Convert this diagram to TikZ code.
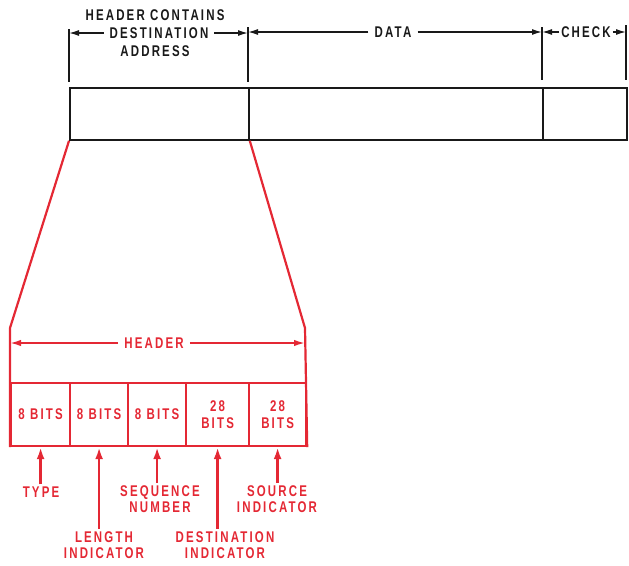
\documentclass[tikz,border=0pt]{standalone}
\usepackage{fontspec}
\setmainfont{Liberation Sans}
\usepackage{tikz}
\usetikzlibrary{arrows.meta,positioning}
\definecolor{pktink}{RGB}{25,25,25}
\definecolor{pktred}{RGB}{228,40,52}

\tikzset{
  lettering/.style={font=\bfseries\fontsize{15.5}{16.5}\selectfont\addfontfeature{FakeStretch=0.74,LetterSpace=14},
    inner sep=2pt, align=center},
  dimlabel/.style={lettering, inner xsep=6pt},
  frame/.style={draw=pktink, line width=1.8pt, inner sep=0pt, anchor=north west,
    minimum height=52pt},
  cell/.style={draw=pktred, line width=2.2pt, inner sep=0pt, anchor=north west,
    minimum height=63pt, lettering, text=pktred},
  dimline/.style={pktink, line width=1.4pt, -{Latex[length=10pt,width=6pt]}},
  extline/.style={pktink, line width=1.6pt},
  redline/.style={pktred, line width=2.2pt, line join=round},
  reddim/.style={pktred, line width=1.8pt, -{Latex[length=11pt,width=6.5pt]}},
  pointer/.style={pktred, line width=2.4pt, -{Latex[length=12pt,width=8pt]}}
}

\begin{document}
\begin{tikzpicture}[x=1pt,y=-1pt]
  \useasboundingbox (0,0) rectangle (629,565);

  % packet frame
  \node[frame, minimum width=179pt] (hdr) at (69,87) {};
  \node[frame, minimum width=294pt] (data) at (248,87) {};
  \node[frame, minimum width=84pt] (chk) at (542,87) {};

  \coordinate (eA) at (69,29); \coordinate (eB) at (248,27);
  \coordinate (eC) at (542,27); \coordinate (eD) at (626,25);
  \draw[extline] (eA) -- (69,82);
  \draw[extline] (eB) -- (248,82);
  \draw[extline] (eC) -- (542,80);
  \draw[extline] (eD) -- (626,80);

  \node[lettering, text=pktink] (hdrA) at (155,15) {HEADER CONTAINS};
  \node[dimlabel, text=pktink] (hdrB) at (159,33) {DESTINATION};
  \node[lettering, text=pktink] (hdrC) at (155,51) {ADDRESS};
  \node[dimlabel, text=pktink] (datal) at (393,32) {DATA};
  \node[lettering, text=pktink] (chkl) at (586,32) {CHECK};

  \draw[dimline] (hdrB.west) -- (eA |- hdrB);
  \draw[dimline] (hdrB.east) -- (eB |- hdrB);
  \draw[dimline] (datal.west) -- (eB |- datal);
  \draw[dimline] (datal.east) -- (eC |- datal);
  \draw[dimline] (chkl.west) -- (eC |- chkl);
  \draw[dimline] (chkl.east) -- (eD |- chkl);

  % header fields
  \node[cell, minimum width=59pt] (type) at (10,382) {8 BITS};
  \node[cell, minimum width=58pt] (len) at (69,382) {8 BITS};
  \node[cell, minimum width=58pt] (seq) at (127,382) {8 BITS};
  \node[cell, minimum width=63pt] (dst) at (185,382) {28\\BITS};
  \node[cell, minimum width=57pt] (src) at (248,382) {28\\BITS};

  \coordinate (kL) at (10,328); \coordinate (kR) at (305,328);
  \draw[redline] (hdr.south west) -- (kL) -- (type.south west);
  \draw[redline] (hdr.south east) -- (kR) -- (src.south east);

  \node[dimlabel, text=pktred] (rhdr) at (154,343) {HEADER};
  \draw[reddim] (rhdr.west) -- (kL |- rhdr);
  \draw[reddim] (rhdr.east) -- (kR |- rhdr);

  \node[lettering, text=pktred] (typel) at (41,492) {TYPE};
  \node[lettering, text=pktred] (lenl) at (104,545) {LENGTH\\INDICATOR};
  \node[lettering, text=pktred] (seql) at (160,499) {SEQUENCE\\NUMBER};
  \node[lettering, text=pktred] (dstl) at (225,545) {DESTINATION\\INDICATOR};
  \node[lettering, text=pktred] (srcl) at (277,499) {SOURCE\\INDICATOR};

  \draw[pointer] (type.south |- typel.north) -- (type.south);
  \draw[pointer] (len.south |- lenl.north) -- (len.south);
  \draw[pointer] (seq.south |- seql.north) -- (seq.south);
  \draw[pointer, -{Latex[open,length=12pt,width=8pt]}] (dst.south |- dstl.north) -- (dst.south);
  \draw[pointer] (src.south |- srcl.north) -- (src.south);
\end{tikzpicture}
\end{document}
